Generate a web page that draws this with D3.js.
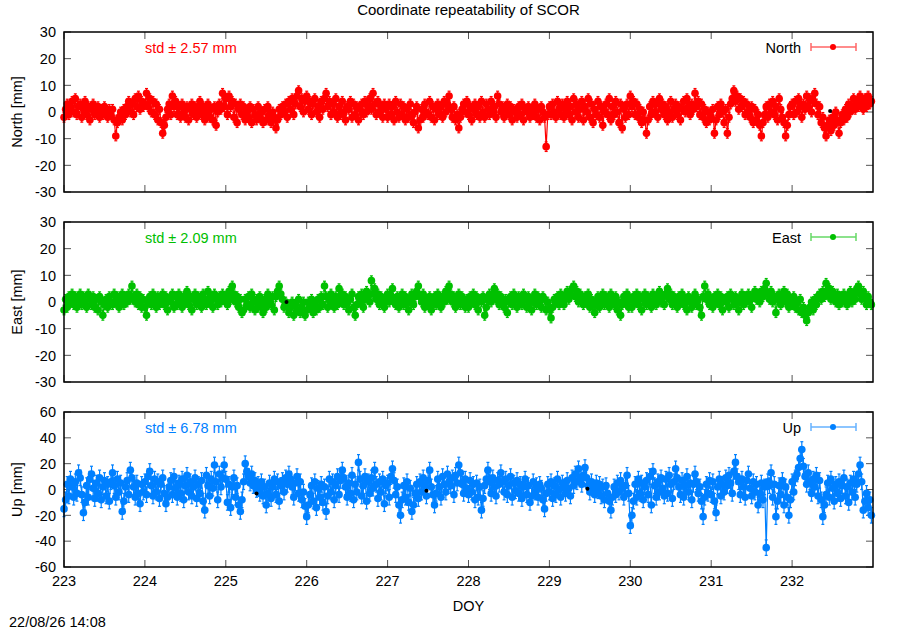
<!DOCTYPE html>
<html>
<head>
<meta charset="utf-8">
<script src="https://cdn.jsdelivr.net/npm/d3@7"></script>
<style>
  body { margin: 0; background: #fff; }
  svg { display: block; font-family: "Liberation Sans", Arial, sans-serif; }
</style>
</head>
<body>
<svg id="chart" width="900" height="630"></svg>
<script>
// ── Data (mm), one sample every 0.02 day from DOY 223.00, one row per half day ──
const doyStart = 223, doyStep = 0.02;
const xTicks = [223, 224, 225, 226, 227, 228, 229, 230, 231, 232];
const yTicksNE = [-30, -20, -10, 0, 10, 20, 30];
const yTicksUp = [-60, -40, -20, 0, 20, 40, 60];

const north = [
  -2, 1, 3, -1, 2, 4, 0, 5, -1, 2, 3, -2, 1, 4, -1, 2, -3, 1, 3, -1, 0, 2, -2, 1, -1,
  2, 0, -2, 1, -1, 1, -3, -9, -4, -2, 0, -3, 1, -1, 2, 4, 0, 3, -1, 5, 2, 6, 1, 4, 2,
  3, 7, 2, 5, 0, 4, -1, 3, -3, 1, -4, -8, -5, -2, 1, 3, -1, 6, 2, 4, -1, 2, -2, 3, 0,
  -2, 2, -3, 1, 3, -1, 2, -2, 1, 4, -1, 2, -3, 0, 3, -2, 1, -3, 2, -5, 0, 3, 1, 7, 2,
  5, -1, 6, 2, 4, -2, 3, -4, 1, 3, -1, 2, -3, 0, -2, 2, -4, 1, -1, -3, 2, -2, 0, -4, 1,
  -3, 2, -1, -4, 0, -2, -6, -3, 1, -1, 2, 0, 3, -2, 4, 1, 5, -1, 3, 6, 8, 2, 5, 0, 4,
  6, 1, 4, -1, 3, 5, 0, 2, -2, 4, 1, 5, 7, 2, 4, -1, 3, 0, 5, -2, 2, -1, 4, 0, -3,
  2, 1, 4, -2, 3, -1, 2, -3, 1, 3, -1, 4, 0, 2, 5, 1, 7, 3, -1, 4, 0, 2, -2, 3, 1,
  -2, 3, -1, 2, -3, 4, 0, -2, 3, -1, 2, -3, 1, -2, 3, -1, -4, 0, 2, -6, -3, 1, -2, 3, 0,
  -1, 4, -2, 2, -3, 1, 3, -1, 2, -2, 4, 0, 3, 6, 1, -2, 2, -3, -1, -6, -2, 1, 3, 0, 4,
  -1, 2, -3, 1, 3, -1, 2, -2, 4, 0, -2, 3, 1, -1, 4, 0, 2, -2, 6, 3, 0, 2, -2, 1, 3,
  -1, 2, -3, 1, 0, -2, 2, -1, 3, -3, 1, 0, 2, -2, 1, -1, 3, -2, 1, -3, 2, 0, -2, -13, -1,
  2, -1, 3, 0, -2, 4, 1, -1, 3, -2, 1, 4, -1, 2, -3, 5, 0, 3, -2, 1, 4, -3, 2, 0, 5,
  -2, 3, -4, 1, -1, 4, -2, 2, -5, 0, 3, -1, 5, -3, 2, -1, 4, 0, -4, 3, -6, 1, -2, 3, -1,
  6, 2, 4, -1, 3, -2, 1, -4, 0, -3, -8, -3, 2, -1, 4, 0, 3, -2, 5, 1, 3, -1, 2, -3, 0,
  4, -2, 1, 3, -1, 2, -3, 1, 4, 0, 5, 2, -1, 3, 1, 7, 2, 4, -1, 3, -2, 1, -4, 0, -3,
  -2, 1, -8, -3, 2, -1, 3, 0, -4, 1, -8, -2, 3, 5, 8, 4, 6, 1, 5, 2, 4, -1, 3, 0, -2,
  2, -4, 1, -3, -1, -5, -9, -4, -1, 2, -2, 3, 0, 4, -1, 2, -3, 5, 1, -2, -4, -9, -5, -1, 2,
  3, -1, 4, 0, 5, 2, -2, 3, 1, 6, 2, 5, 0, 4, 7, 3, -1, 2, -4, -2, -6, -9, -5, -3, -7,
  -2, -5, 0, -3, -8, -4, -1, -3, 1, -2, 3, 0, 2, 5, 1, 4, 2, 6, 3, 1, 5, 2, 6, 3, 4
];
const east = [
  -3, 1, -2, 2, 0, 3, -1, 2, -2, 1, 3, -1, 2, 0, -2, 3, 1, -1, 2, -2, 1, -3, 2, 0, -5,
  -1, 1, -2, 2, 0, -1, 3, 0, 2, -2, 1, 3, -1, 2, 0, 3, 1, 6, 2, 0, 3, -1, 2, -2, 1,
  -2, -5, 0, 2, -1, 3, 0, -2, 2, -1, 1, 3, -1, 2, -3, 1, 0, 3, -2, 2, -1, 3, 1, -2, 2,
  0, 4, -1, 2, -3, 1, 3, -1, 2, 0, -2, 3, 1, -1, 4, 0, 2, -2, 3, 1, -1, 2, 0, 3, 1,
  2, -1, 4, 1, 6, 3, 0, 2, -2, 1, -4, -3, 1, -1, 2, -2, 3, 0, -3, 1, -2, 2, -1, -4, 1,
  -2, 3, 0, -1, 2, -3, 2, 4, 6, 3, 1, -2, 0, -1, -4, -2, 0, -5, -1, -3, 1, -4, -2, 0, -5,
  -3, 0, -2, 1, -4, -1, -3, 1, -2, 2, -1, 6, 2, -2, 1, 3, 0, -2, 2, -1, 5, 1, 3, -1, 2,
  0, -3, 1, 3, -2, -5, -1, 2, 0, 3, -2, 1, 4, 2, 0, 8, 3, 5, 1, 3, -1, 2, 0, -2, 1,
  3, 0, 2, 5, 1, -1, 2, -2, 1, 3, -1, 2, 0, -3, 1, 3, -1, 2, 4, 6, 2, 0, 3, -2, 1,
  -1, 2, -3, 0, 2, -1, 3, 1, -2, 2, 0, 4, 1, 6, 3, 0, 2, -2, 1, 3, -1, 2, 0, -2, 1,
  -2, 2, 0, 3, -1, 2, -3, 1, 0, 2, -5, -2, 1, 3, 0, 2, 5, 1, 3, -1, 2, 0, -2, 1, -4,
  0, 2, -1, 3, 1, -2, 2, 0, -1, 3, 1, -2, 2, 0, -3, 1, 3, -1, 2, 0, -2, 2, 1, -3, 0,
  -3, -6, -2, 1, 0, 2, -1, 3, 1, -1, 2, 4, 1, 3, 5, 6, 2, 4, 0, 3, 1, -1, 2, 0, 3,
  -2, 1, -1, -4, 0, 2, -2, 1, 3, -1, 2, 0, -2, 3, 1, -1, 2, -3, 0, -5, -1, 2, 0, 3, -2,
  1, -2, 2, 0, 3, -1, 2, -3, 1, 3, -1, 2, 0, -2, 3, 1, -1, 2, 4, 0, 2, -1, 3, 5, 1,
  3, -1, 2, 0, -2, 2, 0, 3, -1, 1, -3, 2, 0, -2, 1, 3, -1, 1, -2, -5, 2, 6, 1, 3, -1,
  1, -2, 2, 0, 3, -1, 2, -3, 1, 0, 2, -2, 3, 1, -1, 2, 0, -3, 1, 3, -1, 2, 0, 3, 1,
  -2, 2, 4, 1, 3, 0, 4, 2, 5, 7, 3, 1, 4, 0, 2, -4, 1, 3, -1, 2, 4, 0, 3, -2, 1,
  -1, 2, -2, 0, -3, 1, -4, -2, -5, -7, -4, -2, 0, -3, 1, -1, 2, 3, 1, 4, 2, 7, 3, 5, 1,
  4, 2, 0, 3, -1, 2, 0, 3, 1, -1, 2, 4, 0, 3, 1, 5, 6, 3, 1, 4, 2, -1, 2, 0, -1
];
const up = [
  -15, -8, 4, -5, 8, 2, -6, 6, -3, 13, 9, -4, -18, -10, 3, -6, 8, 12, 1, -7, 5, -3, 9, -8, 2,
  7, -5, 4, -9, 6, 13, 3, -6, 8, -2, 5, -17, -9, 2, 7, -4, 15, 9, 2, -6, 5, -3, -11, 4, -2,
  6, -4, 10, 14, 3, -5, 8, -2, 6, -7, 4, 9, -3, -11, -6, 2, 7, -4, 10, 1, -6, 5, -3, 8, -8,
  3, 11, -2, 6, -5, 2, 9, -7, 4, -3, 7, -9, -16, 11, 3, -5, 8, 1, 19, 6, -8, 12, 2, 9, 19,
  8, -10, 4, -14, 2, 9, -6, 3, -12, -17, -8, 6, 20, 14, 10, 5, 12, 3, 7, 0, 4, -3, 6, -5, 2,
  -12, -3, 5, -7, 2, 8, -4, 6, -9, 3, 7, -2, 9, 4, 12, 8, 2, -6, 5, 10, -3, 6, -8, -2, -13,
  -21, -12, -4, 3, -9, 6, -14, 1, -6, 4, -10, 2, -17, -5, 8, -2, 6, -8, 3, 10, -4, 7, 15, 9, 2,
  -6, 5, -3, 11, -8, 4, -2, 21, 8, -5, 3, 10, -9, 6, -3, 9, 1, 15, 4, -7, 6, -2, 8, -11, 3,
  5, -6, 10, 16, 7, -4, 2, -12, -20, -8, 3, -6, 6, -10, 1, -17, -12, -3, 4, -7, 6, -2, 9, 3, -5,
  7, 15, 2, -4, -12, -3, 8, 2, -6, 10, 4, -2, 12, 6, 3, 9, -4, 11, 5, 19, 13, 4, -3, 8, 1,
  -4, 7, -2, 4, -8, 5, -6, 2, -16, -7, 3, 8, 15, 6, -3, 9, 2, -5, 7, 4, 13, 6, -2, 8, -4,
  3, 10, -6, 5, -1, 7, -3, 4, -7, 2, 8, -4, 3, -10, -5, 6, -2, 3, -6, 4, 1, -8, -15, -3, 4,
  -2, 6, -7, 3, -4, 8, 0, -6, 5, 2, -3, 7, 1, -5, 9, 3, 12, 6, 16, 8, 4, 11, 17, 9, 3,
  -2, 6, 1, -4, 5, -1, 4, -5, 2, -8, 3, -3, -9, -16, -6, 2, -4, 5, -2, 7, 1, -6, 3, 11, -3,
  -28, -20, -9, 4, -6, 8, -3, 5, -8, 2, 7, -4, 10, -12, 14, 3, -6, 6, -2, 9, 1, -5, 8, -3, 11,
  4, -7, 6, 16, 9, 2, -4, 7, -6, 3, 10, -2, 5, -8, 4, 12, 6, -3, 2, -9, -21, -6, 4, -3, 7,
  -4, 6, -9, -18, 2, 8, -5, 4, -2, 9, 3, 11, 5, -3, 14, 21, 10, 6, -4, 8, 2, -6, 7, 12, 1,
  -5, 6, -2, 4, -12, -3, 5, -8, 2, -45, 6, 3, 13, -6, 4, -21, -9, 3, -4, 7, -12, 2, -6, -20, -8,
  6, -2, 9, 12, 17, 24, 31, 18, 10, 4, 13, 6, -3, 8, 2, 11, -5, 7, -8, -21, -12, -4, 5, -6, 8,
  1, -9, 4, -3, 6, -7, 3, 9, -5, 2, -10, 5, -2, 8, -6, 4, 12, 19, 6, -16, -9, -3, -14, -8, -20
];

// formal errors (mm) and flagged epochs [doy, mm]
const sigmaNorth = 1.8, sigmaEast = 1.8, sigmaUp = 6.0;
const flaggedNorth = [[232.47, 0.4]];
const flaggedEast = [[225.75, 0]];
const flaggedUp = [[225.38, -3], [227.48, -1], [229.47, 0.5]];

const seriesNames = ["North", "East", "Up"];
const stdValues = ["2.57", "2.09", "6.78"];
const colors = ["#ff0000", "#00c000", "#0080ff"];

// ── Layout ────────────────────────────────────────────────────────
const L = 64, R = 873;
const panels = [
  { name: seriesNames[0], vals: north, sigma: sigmaNorth, flag: flaggedNorth, top: 32,  h: 160, dom: [-30, 30], ticks: yTicksNE },
  { name: seriesNames[1], vals: east,  sigma: sigmaEast,  flag: flaggedEast,  top: 222, h: 160, dom: [-30, 30], ticks: yTicksNE },
  { name: seriesNames[2], vals: up,    sigma: sigmaUp,    flag: flaggedUp,    top: 412, h: 155, dom: [-60, 60], ticks: yTicksUp }
];
panels.forEach((p, i) => { p.color = colors[i]; p.std = stdValues[i]; });

const svg = d3.select("#chart");
const x = d3.scaleLinear().domain([223, 233]).range([L, R]);
const FS = 14.5;

svg.append("text")
  .attr("x", (L + R) / 2).attr("y", 15)
  .attr("text-anchor", "middle").attr("font-size", 15)
  .text("Coordinate repeatability of SCOR");

panels.forEach((p, pi) => {
  const y = d3.scaleLinear().domain(p.dom).range([p.top + p.h, p.top]);
  const g = svg.append("g");
  const pts = p.vals.map((v, i) => ({ t: doyStart + i * doyStep, v }));

  // Ticks (inward, mirrored)
  const tk = g.append("g").attr("stroke", "#555").attr("stroke-width", 1);
  p.ticks.forEach(t => {
    tk.append("line").attr("x1", L).attr("x2", L + 7).attr("y1", y(t)).attr("y2", y(t));
    tk.append("line").attr("x1", R - 7).attr("x2", R).attr("y1", y(t)).attr("y2", y(t));
  });
  xTicks.forEach(t => {
    tk.append("line").attr("x1", x(t)).attr("x2", x(t)).attr("y1", p.top + p.h).attr("y2", p.top + p.h - 7);
    tk.append("line").attr("x1", x(t)).attr("x2", x(t)).attr("y1", p.top).attr("y2", p.top + 7);
  });

  // Y tick labels
  g.selectAll(".yl").data(p.ticks).join("text")
    .attr("x", 56).attr("y", d => y(d)).attr("dy", "0.36em")
    .attr("text-anchor", "end").attr("font-size", FS)
    .text(d => d);

  // Y axis title
  g.append("text")
    .attr("transform", `translate(22,${p.top + p.h / 2}) rotate(-90)`)
    .attr("text-anchor", "middle").attr("font-size", FS)
    .text(p.name + " [mm]");

  // Error bars
  const eb = g.append("g").attr("stroke", p.color).attr("stroke-width", 1.2);
  pts.forEach(d => {
    const y0 = y(d.v - p.sigma), y1 = y(d.v + p.sigma), cx = x(d.t);
    eb.append("line").attr("x1", cx).attr("x2", cx).attr("y1", y0).attr("y2", y1);
    eb.append("line").attr("x1", cx - 1.5).attr("x2", cx + 1.5).attr("y1", y0).attr("y2", y0);
    eb.append("line").attr("x1", cx - 1.5).attr("x2", cx + 1.5).attr("y1", y1).attr("y2", y1);
  });

  // Connecting line
  g.append("path").datum(pts)
    .attr("fill", "none").attr("stroke", p.color).attr("stroke-width", 1.2)
    .attr("d", d3.line().x(d => x(d.t)).y(d => y(d.v)));

  // Points
  g.selectAll(".pt").data(pts).join("circle")
    .attr("cx", d => x(d.t)).attr("cy", d => y(d.v)).attr("r", 3.8)
    .attr("fill", p.color);

  // Flagged epochs
  g.selectAll(".fl").data(p.flag).join("circle")
    .attr("cx", d => x(d[0])).attr("cy", d => y(d[1])).attr("r", 2)
    .attr("fill", "#000");

  // Frame
  g.append("rect")
    .attr("x", L).attr("y", p.top).attr("width", R - L).attr("height", p.h)
    .attr("fill", "none").attr("stroke", "#000").attr("stroke-width", 1.5);

  // std label
  g.append("text")
    .attr("x", 145).attr("y", p.top + 21).attr("font-size", FS)
    .attr("fill", p.color)
    .text("std \u00b1 " + p.std + " mm");

  // Legend
  const ly = p.top + 15;
  g.append("text")
    .attr("x", 801).attr("y", p.top + 21).attr("text-anchor", "end")
    .attr("font-size", FS).text(p.name);
  const lg = g.append("g").attr("stroke", p.color).attr("stroke-width", 1.5).attr("opacity", 0.6);
  lg.append("line").attr("x1", 811).attr("x2", 856).attr("y1", ly).attr("y2", ly);
  lg.append("line").attr("x1", 811).attr("x2", 811).attr("y1", ly - 4).attr("y2", ly + 4);
  lg.append("line").attr("x1", 856).attr("x2", 856).attr("y1", ly - 4).attr("y2", ly + 4);
  g.append("circle").attr("cx", 833).attr("cy", ly).attr("r", 3).attr("fill", p.color);

  // X tick labels only on the bottom panel
  if (pi === panels.length - 1) {
    g.selectAll(".xl").data(xTicks).join("text")
      .attr("x", d => x(d)).attr("y", p.top + p.h + 19)
      .attr("text-anchor", "middle").attr("font-size", FS)
      .text(d => d);
  }
});

svg.append("text")
  .attr("x", (L + R) / 2).attr("y", 611)
  .attr("text-anchor", "middle").attr("font-size", FS)
  .text("DOY");

svg.append("text")
  .attr("x", 9).attr("y", 627).attr("font-size", FS)
  .text("22/08/26 14:08");
</script>
</body>
</html>
